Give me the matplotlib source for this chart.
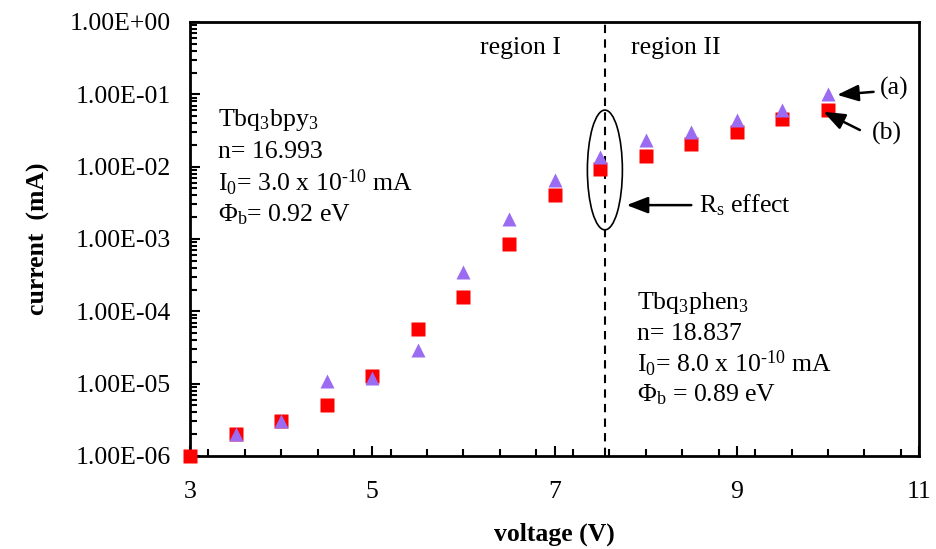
import matplotlib
matplotlib.use("Agg")
import matplotlib.pyplot as plt
from matplotlib.ticker import FixedLocator, MultipleLocator, LogLocator, FuncFormatter, NullFormatter
from matplotlib.patches import Ellipse

plt.rcParams['font.family'] = 'Liberation Serif'
plt.rcParams['mathtext.fontset'] = 'custom'
plt.rcParams['mathtext.rm'] = 'Liberation Serif'
plt.rcParams['mathtext.it'] = 'Liberation Serif:italic'

# data
v_b = [3.0, 3.5, 4.0, 4.5, 5.0, 5.5, 6.0, 6.5, 7.0, 7.5, 8.0, 8.5, 9.0, 9.5, 10.0]
i_b = [1.0e-6, 2.0e-6, 3.0e-6, 5.1e-6, 1.28e-5, 5.7e-5, 1.58e-4, 8.5e-4, 4.1e-3, 9.3e-3,
       1.4e-2, 2.07e-2, 3.0e-2, 4.5e-2, 6.1e-2]
v_a = [3.5, 4.0, 4.5, 5.0, 5.5, 6.0, 6.5, 7.0, 7.5, 8.0, 8.5, 9.0, 9.5, 10.0]
i_a = [2.0e-6, 3.0e-6, 1.1e-5, 1.2e-5, 2.9e-5, 3.5e-4, 1.9e-3, 6.6e-3, 1.36e-2,
       2.3e-2, 3.0e-2, 4.4e-2, 6.0e-2, 1.0e-1]
x_ticks = [3, 5, 7, 9, 11]
v_split = 7.55

fs = 18.5
fig = plt.figure(figsize=(9.36, 5.49), dpi=100)
ax = fig.add_axes([0.203, 0.1694, 0.779, 0.7906])

ax.plot(v_b, i_b, 's', color='#FF0000', ms=10, mec='none', zorder=3, clip_on=False)
ax.plot(v_a, i_a, '^', color='#9B6BF2', ms=10, mec='none', zorder=4, clip_on=False)

ax.set_yscale('log')
ax.set_xlim(3, 11)
ax.set_ylim(1e-6, 1)

ax.xaxis.set_major_locator(FixedLocator(x_ticks))
ax.xaxis.set_minor_locator(MultipleLocator(0.4))
ax.yaxis.set_major_locator(LogLocator(base=10))
ax.yaxis.set_minor_locator(LogLocator(base=10, subs=range(2, 10)))
ax.yaxis.set_minor_formatter(NullFormatter())
ax.yaxis.set_major_formatter(FuncFormatter(lambda y, p: '%.2E' % y))

ax.tick_params(which='both', direction='in', top=False, right=False, labelsize=fs, width=1.5)
ax.tick_params(which='major', length=7)
ax.tick_params(which='minor', length=5)
ax.tick_params(axis='x', pad=18)
ax.tick_params(axis='y', pad=14)
for s in ax.spines.values():
    s.set_linewidth(2)

ax.set_xlabel('voltage (V)', fontsize=fs, fontweight='bold', labelpad=14)
ax.set_ylabel('current  (mA)', fontsize=fs, fontweight='bold', labelpad=14)

ax.axvline(v_split, color='black', ls=(0, (4, 3)), lw=1.5)
blend = ax.get_xaxis_transform()
ax.text(7.07, 0.94, 'region I', fontsize=fs, ha='right', va='center', transform=blend)
ax.text(7.84, 0.94, 'region II', fontsize=fs, ha='left', va='center', transform=blend)

ax.add_patch(Ellipse((0.569, 0.659), 0.048, 0.276, transform=ax.transAxes,
                     fill=False, lw=1.2, color='black'))

hy = '\u2010'
left_txt = ['Tbq$_3$bpy$_3$', 'n= 16.993', 'I$_0$= 3.0 x 10$^{' + hy + '10}$ mA', 'Φ$_\\mathrm{b}$= 0.92 eV']
for k, t in enumerate(left_txt):
    ax.text(0.038, 0.774 - k * 0.0726, t, fontsize=fs, transform=ax.transAxes, va='center')
right_txt = ['Tbq$_3$phen$_3$', 'n= 18.837', 'I$_0$= 8.0 x 10$^{' + hy + '10}$ mA', 'Φ$_\\mathrm{b}$ = 0.89 eV']
for k, t in enumerate(right_txt):
    ax.text(0.613, 0.352 - k * 0.0705, t, fontsize=fs, transform=ax.transAxes, va='center')

arr = dict(arrowstyle='-|>,head_length=1.3,head_width=0.5', color='black', lw=1.8,
           shrinkA=0, shrinkB=0)
ax.annotate('', xy=(7.79, 0.578), xytext=(8.5, 0.578), xycoords=blend, arrowprops=arr)
ax.text(8.58, 0.578, 'R$_\\mathrm{s}$ effect', fontsize=fs, va='center', transform=blend)
ax.annotate('', xy=(10.1, 0.832), xytext=(10.5, 0.839), xycoords=blend, arrowprops=arr)
ax.text(10.57, 0.846, '(a)', fontsize=fs, va='center', transform=blend)
ax.annotate('', xy=(9.95, 0.793), xytext=(10.35, 0.751), xycoords=blend, arrowprops=arr)
ax.text(10.48, 0.742, '(b)', fontsize=fs, va='center', transform=blend)

fig.savefig('out.png', dpi=100)
